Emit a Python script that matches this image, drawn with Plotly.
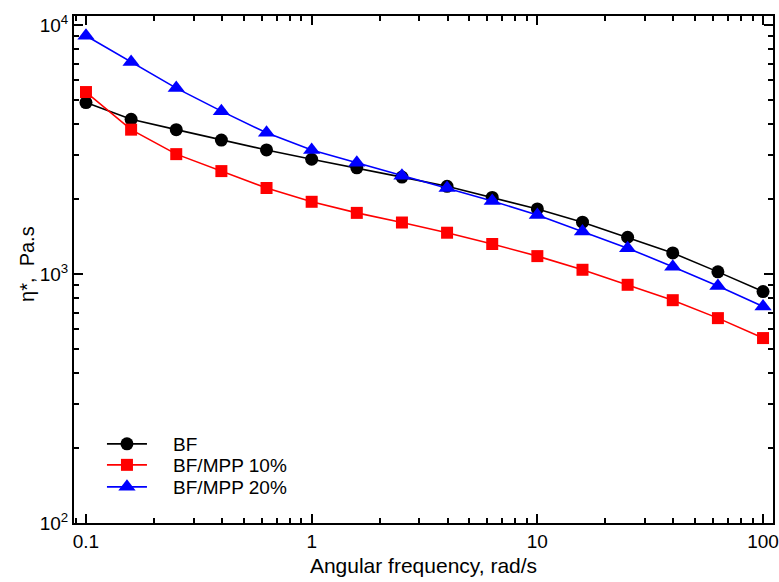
import plotly.graph_objects as go
import numpy as np

freq = [0.1, 0.1585, 0.2512, 0.3981, 0.631, 1.0, 1.585, 2.512, 3.981, 6.31, 10.0, 15.85, 25.12, 39.81, 63.1, 100.0]
bf = [4880, 4180, 3800, 3450, 3150, 2890, 2670, 2450, 2250, 2030, 1825, 1615, 1405, 1215, 1020, 850]
mpp10 = [5380, 3800, 3030, 2590, 2215, 1950, 1760, 1610, 1465, 1320, 1180, 1040, 905, 785, 665, 553]
mpp20 = [9050, 7100, 5580, 4510, 3690, 3150, 2800, 2480, 2215, 1965, 1725, 1480, 1270, 1070, 895, 740]

x_major = [0.1, 1, 10, 100]
x_major_text = ["0.1", "1", "10", "100"]
y_major = [100, 1000, 10000]
y_major_text = ["10<sup>2</sup>", "10<sup>3</sup>", "10<sup>4</sup>"]

x_minor = [m * d for d in [0.01, 0.1, 1, 10, 100] for m in range(2, 10)]
x_minor = [v for v in x_minor if 0.085 < v < 112 and v not in x_major]
y_minor = [m * d for d in [100, 1000, 10000] for m in range(2, 10)]
y_minor = [v for v in y_minor if v < 10900]

fig = go.Figure()
series = [
    ("BF", bf, "black", "circle", 13, "legend", 0.1558),
    ("BF/MPP 10%", mpp10, "#ff0000", "square", 12, "legend2", 0.1144),
    ("BF/MPP 20%", mpp20, "#0000ff", "triangle-up", 15, "legend3", 0.0710),
]
legends = {}
for name, vals, col, sym, sz, lg, ly in series:
    fig.add_trace(go.Scatter(
        x=freq, y=vals, name="\u00a0\u00a0\u00a0\u00a0" + name, mode="lines+markers",
        line=dict(color=col, width=1.6),
        marker=dict(symbol=sym, size=sz, color=col, line=dict(width=0)),
        legend=lg,
    ))
    legends[lg] = dict(x=0.040, y=ly, xanchor="left", yanchor="middle",
                       bgcolor="rgba(0,0,0,0)", borderwidth=0, font=dict(size=19),
                       itemwidth=40)

fig.update_layout(
    template="none",
    width=779, height=582,
    margin=dict(l=74, r=6, t=16, b=59, pad=0),
    paper_bgcolor="white", plot_bgcolor="white",
    font=dict(family="Liberation Sans, Arial, sans-serif", size=18, color="black"),
    showlegend=True,
    annotations=[dict(text="η*,\u00a0\u00a0Pa.s", xref="paper", yref="paper",
                      x=-0.0672, y=0.511, xanchor="center", yanchor="middle",
                      textangle=-90, showarrow=False, font=dict(size=20))],
    **legends,
)
fig.update_xaxes(
    type="log", range=[np.log10(0.0885), np.log10(110.7)],
    tickvals=x_major, ticktext=x_major_text,
    ticks="inside", ticklen=9, tickwidth=1.5, tickcolor="black",
    minor=dict(tickvals=x_minor, ticks="inside", ticklen=5, tickwidth=1.5, tickcolor="black", showgrid=False),
    showline=True, linecolor="black", linewidth=2, mirror="ticks",
    showgrid=False, zeroline=False, automargin=False,
    title=dict(text="Angular frequency, rad/s", font=dict(size=21), standoff=8),
    tickfont=dict(size=19),
)
fig.update_yaxes(
    type="log", range=[2, np.log10(10870)],
    tickvals=y_major, ticktext=y_major_text,
    ticks="inside", ticklen=9, tickwidth=1.5, tickcolor="black",
    minor=dict(tickvals=y_minor, ticks="inside", ticklen=5, tickwidth=1.5, tickcolor="black", showgrid=False),
    showline=True, linecolor="black", linewidth=2, mirror="ticks",
    showgrid=False, zeroline=False, automargin=False,
    tickfont=dict(size=19),
)
fig.write_html("out.html", config={"displayModeBar": False},
               post_script="document.body.style.margin='0';document.body.style.overflow='hidden';")
